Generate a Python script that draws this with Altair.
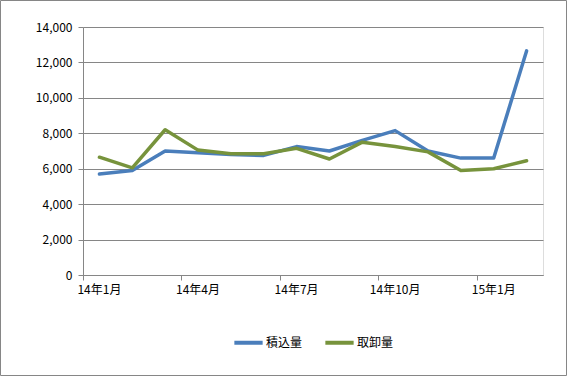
import altair as alt
import pandas as pd

months = ["14年1月", "14年2月", "14年3月", "14年4月", "14年5月", "14年6月", "14年7月",
          "14年8月", "14年9月", "14年10月", "14年11月", "14年12月", "15年1月", "15年2月"]
loading = [5700, 5900, 7000, 6900, 6800, 6750, 7250, 7000, 7600, 8150, 7000, 6600, 6600, 12650]
unloading = [6650, 6050, 8200, 7050, 6850, 6850, 7150, 6550, 7500, 7250, 6950, 5900, 6000, 6450]
series_names = ["積込量", "取卸量"]
tick_labels = ["14年1月", "14年4月", "14年7月", "14年10月", "15年1月"]
colors = ["#4A7EBB", "#77933C"]

rows = []
for m, a, b in zip(months, loading, unloading):
    rows.append({"month": m, "series": series_names[0], "value": a})
    rows.append({"month": m, "series": series_names[1], "value": b})
df = pd.DataFrame(rows)

W, H = 460, 248
FONT = "Noto Sans CJK JP"

lines = alt.Chart(df).mark_line(strokeWidth=3.5, strokeJoin="round", strokeCap="round").encode(
    x=alt.X("month:N", sort=months, bandPosition=0.5,
            scale=alt.Scale(type="band", domain=months, paddingInner=0, paddingOuter=0),
            axis=alt.Axis(values=tick_labels, bandPosition=0,
                          labelAngle=0, title=None, grid=False, tickSize=5,
                          labelPadding=4, domainColor="#868686", tickColor="#868686",
                          labelColor="#000000", labelFont=FONT, labelFontSize=12)),
    y=alt.Y("value:Q", scale=alt.Scale(domain=[0, 14000], nice=False),
            axis=alt.Axis(values=[0, 2000, 4000, 6000, 8000, 10000, 12000, 14000],
                          format=",.0f", title=None, grid=True, gridColor="#868686",
                          tickSize=5, labelPadding=6, domainColor="#868686",
                          tickColor="#868686", labelColor="#000000",
                          labelFont=FONT, labelFontSize=12)),
    color=alt.Color("series:N", sort=series_names,
                    scale=alt.Scale(domain=series_names, range=colors),
                    legend=alt.Legend(title=None, orient="none", direction="horizontal",
                                      legendX=149, legendY=299, symbolType="stroke",
                                      symbolSize=800, symbolStrokeWidth=4,
                                      labelFont=FONT, labelFontSize=12, labelColor="#000000",
                                      labelOffset=1, columnPadding=14)),
)

border = alt.Chart(pd.DataFrame({"a": [0]})).mark_rect(
    fill=None, stroke="#868686", strokeWidth=1
).encode(x=alt.value(-82.5), x2=alt.value(483.5), y=alt.value(-26.5), y2=alt.value(348.5))

chart = alt.layer(border, lines).properties(
    width=W, height=H,
    autosize=alt.AutoSizeParams(type="none"),
    padding={"left": 83, "top": 27, "right": 25, "bottom": 101},
).configure_view(stroke=None).configure(background="#ffffff")

chart.save("out.html", embed_options={"renderer": "svg", "actions": False})
